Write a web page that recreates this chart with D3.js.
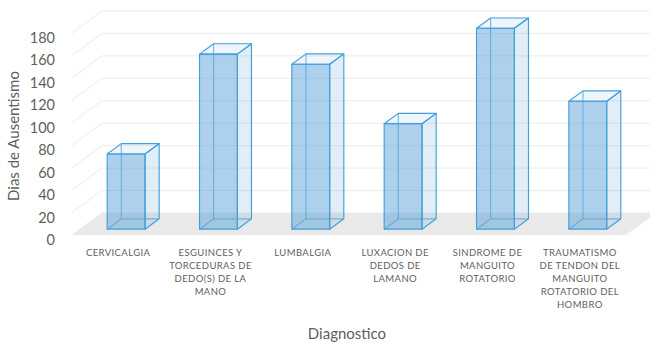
<!DOCTYPE html>
<html>
<head>
<meta charset="utf-8">
<script src="https://cdn.jsdelivr.net/npm/d3@7"></script>
<style>
  html, body { margin: 0; padding: 0; background: #fff; }
  svg { display: block; font-family: Lato, "Open Sans", sans-serif; }
</style>
</head>
<body>
<svg id="chart" width="650" height="343"></svg>
<script>
// Days of absence by diagnosis
const categories = [
  "CERVICALGIA",
  "ESGUINCES Y TORCEDURAS DE DEDO(S) DE LA MANO",
  "LUMBALGIA",
  "LUXACION DE DEDOS DE LAMANO",
  "SINDROME DE MANGUITO ROTATORIO",
  "TRAUMATISMO DE TENDON DEL MANGUITO ROTATORIO DEL HOMBRO"
];
const categoryLines = [
  ["CERVICALGIA"],
  ["ESGUINCES Y", "TORCEDURAS DE", "DEDO(S) DE LA", "MANO"],
  ["LUMBALGIA"],
  ["LUXACION DE", "DEDOS DE", "LAMANO"],
  ["SINDROME DE", "MANGUITO", "ROTATORIO"],
  ["TRAUMATISMO", "DE TENDON DEL", "MANGUITO", "ROTATORIO DEL", "HOMBRO"]
];
const values = [67, 156, 147, 94, 179, 114];
const yTicks = [0, 20, 40, 60, 80, 100, 120, 140, 160, 180];

const svg = d3.select("#chart");

// Oblique 3D frame: front plane plus a depth vector toward the back wall
const frontLeft = 72, frontRight = 626;
const depth = { dx: 30, dy: -22 };
const y = d3.scaleLinear().domain([0, 180]).range([235, 33]);
const x = d3.scaleBand().domain(categories).range([frontLeft, frontRight]).padding(0);
const barW = x.bandwidth() * 0.41;
const tFront = 0.265, tBack = 0.735;

const at = (px, py, t) => [px + depth.dx * t, py + depth.dy * t];
const pts = arr => arr.map(p => p.join(",")).join(" ");

// Gridlines: along the side wall, then across the back wall
const grid = svg.append("g");
yTicks.forEach(v => {
  const y0 = y(v);
  const back = at(frontLeft, y0, 1);
  grid.append("polyline")
    .attr("points", pts([[frontLeft, y0], back, [700, back[1]]]))
    .attr("fill", "none")
    .attr("stroke", "#ebebeb")
    .attr("stroke-width", 1);
});

// Floor
svg.append("polygon")
  .attr("points", pts([
    [frontLeft, y(0)], [frontRight, y(0)],
    at(frontRight, y(0), 1), at(frontLeft, y(0), 1)
  ]))
  .attr("fill", "#e9e9e9");

// Y tick labels
svg.append("g").selectAll("text").data(yTicks).join("text")
  .attr("x", 55)
  .attr("y", d => y(d) + 4.5)
  .attr("text-anchor", "end")
  .attr("dominant-baseline", "central")
  .attr("font-size", 14.5)
  .attr("fill", "#606060")
  .text(d => d);

// Transparent 3D columns
const stroke = "#42a0d8";
const bars = svg.append("g");
categories.forEach((c, i) => {
  const cx = x(c) + x.bandwidth() / 2;
  const xl = cx - barW / 2, xr = cx + barW / 2;
  const yb = y(0), yt = y(values[i]);
  const F = (px, py) => at(px, py, tFront);
  const B = (px, py) => at(px, py, tBack);
  const g = bars.append("g")
    .attr("stroke", stroke)
    .attr("stroke-width", 1.15)
    .attr("stroke-linejoin", "round");

  // Hidden back edges seen through the glass
  g.append("polyline")
    .attr("points", pts([F(xl, yb), B(xl, yb), B(xr, yb)]))
    .attr("fill", "none").attr("stroke-opacity", 0.7);
  g.append("line")
    .attr("x1", B(xl, yb)[0]).attr("y1", B(xl, yb)[1])
    .attr("x2", B(xl, yt)[0]).attr("y2", B(xl, yt)[1])
    .attr("stroke-opacity", 0.7);

  // Right side face
  g.append("polygon")
    .attr("points", pts([F(xr, yb), B(xr, yb), B(xr, yt), F(xr, yt)]))
    .attr("fill", "#5ba3d9").attr("fill-opacity", 0.18);
  // Top face
  g.append("polygon")
    .attr("points", pts([F(xl, yt), F(xr, yt), B(xr, yt), B(xl, yt)]))
    .attr("fill", "#5ba3d9").attr("fill-opacity", 0.1);
  // Front face
  g.append("polygon")
    .attr("points", pts([F(xl, yb), F(xr, yb), F(xr, yt), F(xl, yt)]))
    .attr("fill", "#5ba3d9").attr("fill-opacity", 0.5);
});

// Category labels
const catG = svg.append("g")
  .attr("font-size", 9.5)
  .attr("letter-spacing", 0.4)
  .attr("fill", "#606060")
  .attr("text-anchor", "middle");
categories.forEach((c, i) => {
  const cx = x(c) + x.bandwidth() / 2;
  const t = catG.append("text").attr("x", cx).attr("y", 255.5);
  categoryLines[i].forEach((line, j) => {
    t.append("tspan").attr("x", cx).attr("dy", j === 0 ? 0 : 13).text(line);
  });
});

// Axis titles
svg.append("text")
  .attr("transform", "translate(19,136) rotate(-90)")
  .attr("text-anchor", "middle")
  .attr("font-size", 15)
  .attr("fill", "#606060")
  .text("Dias de Ausentismo");

svg.append("text")
  .attr("x", 347)
  .attr("y", 339)
  .attr("text-anchor", "middle")
  .attr("font-size", 15)
  .attr("fill", "#606060")
  .text("Diagnostico");
</script>
</body>
</html>
